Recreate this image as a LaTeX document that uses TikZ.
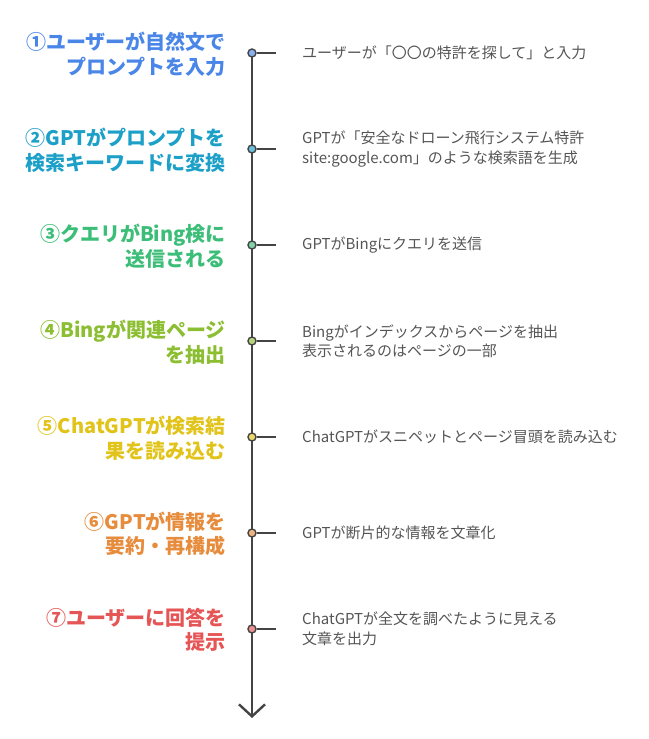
\documentclass[tikz,border=0pt]{standalone}
\usepackage{fontspec}
\setmainfont{Noto Sans CJK JP}
\usetikzlibrary{arrows.meta}
\definecolor{spine}{HTML}{444444}
\definecolor{desctext}{HTML}{555555}
\definecolor{stepA}{HTML}{4A86E8}
\definecolor{stepB}{HTML}{1CA0C8}
\definecolor{stepC}{HTML}{3CBE78}
\definecolor{stepD}{HTML}{8CBE32}
\definecolor{stepE}{HTML}{E1C319}
\definecolor{stepF}{HTML}{E68C3C}
\definecolor{stepG}{HTML}{E65555}
\tikzset{
  dot/.style={circle,draw=spine,line width=1.4pt,fill=#1!65!white,minimum size=8pt,inner sep=0pt},
  steplabel/.style={anchor=east,align=right,inner sep=0pt,text=#1,font=\fontsize{20}{24.5}\selectfont\bfseries},
  desc/.style={anchor=west,align=left,inner sep=0pt,text=desctext,font=\fontsize{15}{19.5}\selectfont},
  tick/.style={draw=spine,line width=2.4pt}
}
\begin{document}
\begin{tikzpicture}[x=1pt,y=-1pt,line cap=butt]
	\useasboundingbox (0,0) rectangle (648,739);
	\coordinate (tip) at (252,718);
	\draw[spine,line width=2.4pt,-{Straight Barb[length=12pt,width=26pt,line width=2.4pt]}] (252,53) -- (tip);
	% ticks
	\coordinate (t1) at (276,53);
	\coordinate (t2) at (276,149);
	\coordinate (t3) at (276,245);
	\coordinate (t4) at (276,341);
	\coordinate (t5) at (276,437);
	\coordinate (t6) at (276,533);
	\coordinate (t7) at (276,629);
	\node[dot=stepA] (d1) at (252,53) {};
	\node[dot=stepB] (d2) at (252,149) {};
	\node[dot=stepC] (d3) at (252,245) {};
	\node[dot=stepD] (d4) at (252,341) {};
	\node[dot=stepE] (d5) at (252,437) {};
	\node[dot=stepF] (d6) at (252,533) {};
	\node[dot=stepG] (d7) at (252,629) {};
	\draw[tick] (d1) -- (t1) (d2) -- (t2) (d3) -- (t3) (d4) -- (t4)
	 (d5) -- (t5) (d6) -- (t6) (d7) -- (t7);
	% step labels
	\node[steplabel=stepA] (lab1) at (226,54) {①ユーザーが自然文で\\プロンプトを入力};
	\node[steplabel=stepB] (lab2) at (226,150) {②GPTがプロンプトを\\検索キーワードに変換};
	\node[steplabel=stepC] (lab3) at (226,246) {③クエリがBing検に\\送信される};
	\node[steplabel=stepD] (lab4) at (226,342) {④Bingが関連ページ\\を抽出};
	\node[steplabel=stepE] (lab5) at (226,438) {⑤ChatGPTが検索結\\果を読み込む};
	\node[steplabel=stepF] (lab6) at (226,534) {⑥GPTが情報を\\要約・再構成};
	\node[steplabel=stepG] (lab7) at (226,630) {⑦ユーザーに回答を\\提示};
	% descriptions
	\node[desc] (desc1) at (302,53) {ユーザーが「〇〇の特許を探して」と入力};
	\node[desc] (desc2) at (302,149) {GPTが「安全なドローン飛行システム特許\\site:google.com」のような検索語を生成};
	\node[desc] (desc3) at (302,245) {GPTがBingにクエリを送信};
	\node[desc] (desc4) at (302,341) {Bingがインデックスからページを抽出\\表示されるのはページの一部};
	\node[desc] (desc5) at (302,437) {ChatGPTがスニペットとページ冒頭を読み込む};
	\node[desc] (desc6) at (302,533) {GPTが断片的な情報を文章化};
	\node[desc] (desc7) at (302,629) {ChatGPTが全文を調べたように見える\\文章を出力};
\end{tikzpicture}
\end{document}
